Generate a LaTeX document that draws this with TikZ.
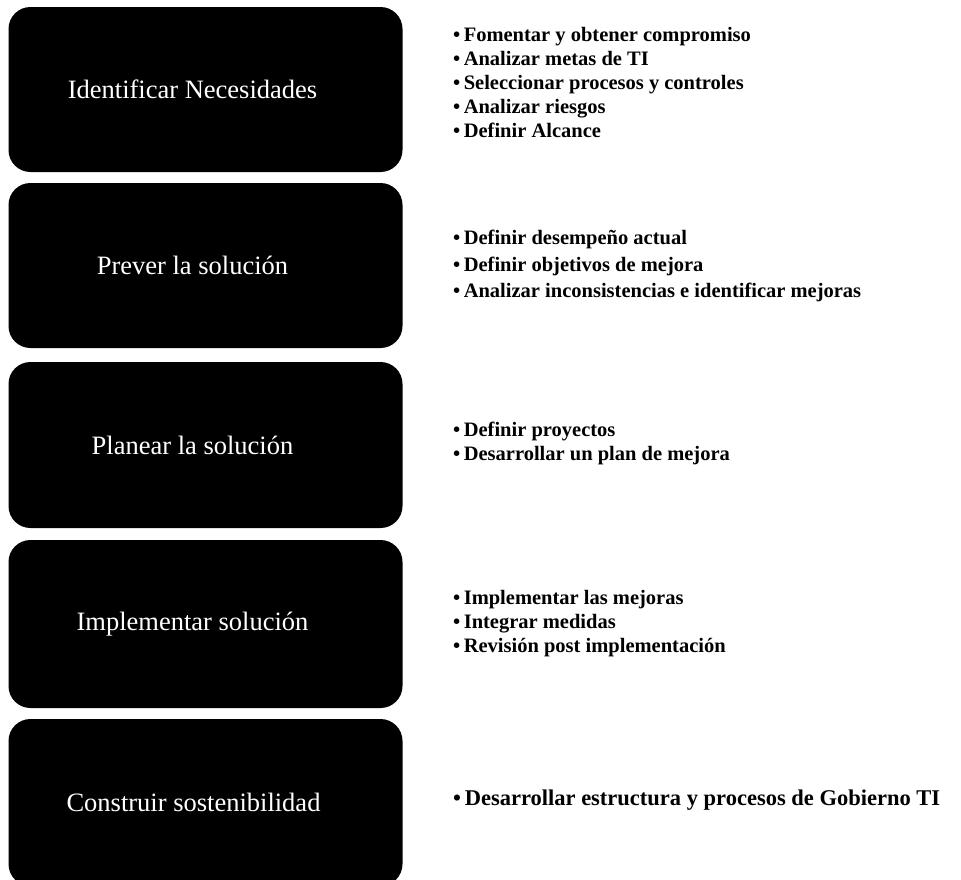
\documentclass[tikz,border=0pt]{standalone}
\usepackage{fontspec}
\setmainfont{Liberation Serif}
\begin{document}
\begin{tikzpicture}[x=1pt,y=-1pt,
  stagebox/.style={fill=black, draw=none, rounded corners=22pt, minimum width=394pt, inner sep=0pt},
  stagetext/.style={text=white, font=\fontsize{26.5}{30}\selectfont, inner sep=0pt},
  itemlist/.style={anchor=west, align=left, inner sep=0pt, font=\bfseries\fontsize{20.5}{24}\selectfont}
]
\useasboundingbox (0,0) rectangle (961,879);
\begin{scope}
\clip (0,0) rectangle (961,879);
\node[stagebox, minimum height=165pt] (b1) at (205.5,89.5) {};
\node[stagebox, minimum height=165pt] (b2) at (205.5,265.5) {};
\node[stagebox, minimum height=166pt] (b3) at (205.5,445) {};
\node[stagebox, minimum height=168pt] (b4) at (205.5,624) {};
\node[stagebox, minimum height=167pt] (b5) at (205.5,802.5) {};
\end{scope}
\node[stagetext] (t1) at ([xshift=-13pt]b1.center) {Identificar Necesidades};
\node[stagetext] (t2) at ([xshift=-13pt]b2.center) {Prever la solución};
\node[stagetext] (t3) at ([xshift=-13pt]b3.center) {Planear la solución};
\node[stagetext] (t4) at ([xshift=-13pt]b4.center) {Implementar solución};
\node[stagetext] (t5) at ([xshift=-12pt]b5.center) {Construir sostenibilidad};
\node[itemlist] (l1) at (453,82) {•\,Fomentar y obtener compromiso\\•\,Analizar metas de TI\\•\,Seleccionar procesos y controles\\•\,Analizar riesgos\\•\,Definir Alcance};
\node[itemlist, font=\bfseries\fontsize{20.5}{26.5}\selectfont] (l2) at (453,266) {•\,Definir desempeño actual\\•\,Definir objetivos de mejora\\•\,Analizar inconsistencias e identificar mejoras};
\node[itemlist] (l3) at (453,443) {•\,Definir proyectos\\•\,Desarrollar un plan de mejora};
\node[itemlist] (l4) at (453,624) {•\,Implementar las mejoras\\•\,Integrar medidas\\•\,Revisión post implementación};
\node[itemlist, font=\bfseries\fontsize{22.5}{26}\selectfont] (l5) at (453,800) {•\,Desarrollar estructura y procesos de Gobierno TI};
\end{tikzpicture}
\end{document}
